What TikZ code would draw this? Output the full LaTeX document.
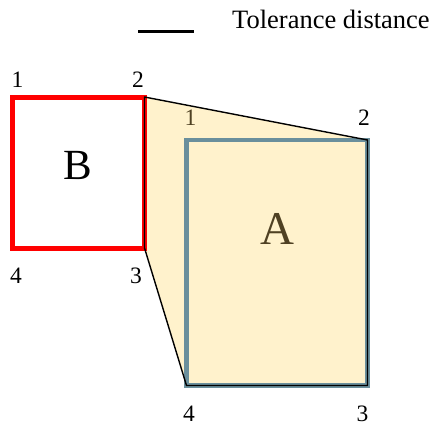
\documentclass[tikz,border=0pt]{standalone}
\usepackage{fontspec}
\setmainfont{Liberation Serif}
\definecolor{hullfill}{HTML}{FFF2CC}
\definecolor{astroke}{HTML}{6A8F9C}
\definecolor{atext}{HTML}{4F4123}
\tikzset{
  num/.style={anchor=base, inner sep=0pt, font=\fontsize{23.5}{23.5}\selectfont},
  anum/.style={num, text=atext},
  big/.style={anchor=base, inner sep=0pt},
}
\begin{document}
\begin{tikzpicture}[x=1pt,y=-1pt]
\useasboundingbox (0,0) rectangle (434,423);
% corners
\coordinate (B1) at (12.5,97);
\coordinate (B2) at (144.5,97);
\coordinate (B3) at (144.5,248);
\coordinate (B4) at (12.5,248);
\coordinate (A1) at (186.5,140);
\coordinate (A2) at (367.5,140);
\coordinate (A3) at (367.5,385.5);
\coordinate (A4) at (186.5,385.5);
% hull fill
\fill[hullfill] (B2) -- (A2) -- (A3) -- (A4) -- (B3) -- cycle;
% A rectangle
\draw[astroke, line width=4.5pt] (A1) rectangle (A3);
% B rectangle
\draw[red, line width=5pt] (B1) rectangle (B3);
% hull outline
\draw[black, line width=1.4pt, line join=round] (B2) -- (A2) -- (A3) -- (A4) -- (B3) -- cycle;
% legend
\coordinate (L1) at (138,31);
\coordinate (L2) at (194,31);
\draw[black, line width=3pt] (L1) -- (L2);
\node[anchor=base west, inner sep=0pt, font=\fontsize{26.5}{26.5}\selectfont] (tol) at (232,28) {Tolerance distance};
% labels of B
\node[num] (b1) at (17.5,87) {1};
\node[num] (b2) at (138,87) {2};
\node[num] (b4) at (16,283) {4};
\node[num] (b3) at (136,283) {3};
\node[big, font=\fontsize{43}{43}\selectfont] (bl) at (77.5,179) {B};
% labels of A
\node[anum] (a1) at (190.5,125) {1};
\node[num] (a2) at (364,125) {2};
\node[num] (a4) at (189,421) {4};
\node[num] (a3) at (362.5,421) {3};
\node[big, text=atext, font=\fontsize{47}{47}\selectfont] (al) at (277,244) {A};
\end{tikzpicture}
\end{document}
